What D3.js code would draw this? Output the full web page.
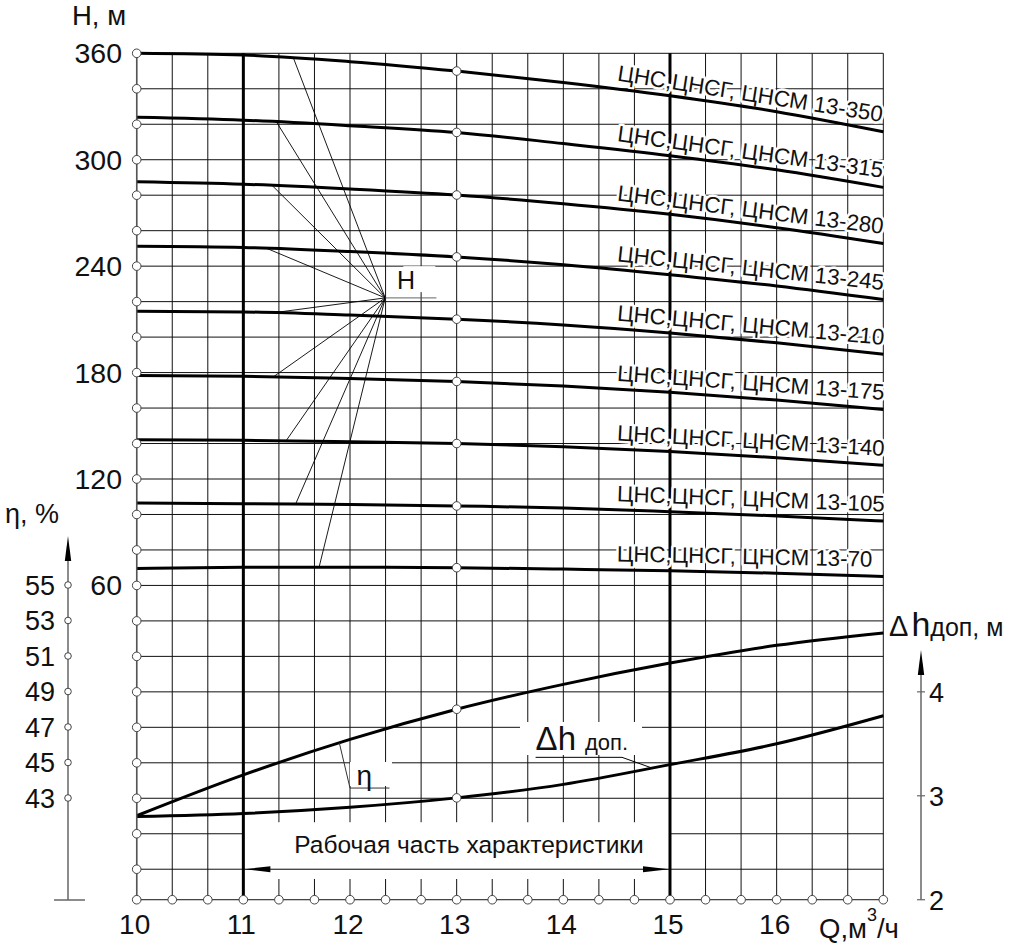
<!DOCTYPE html>
<html><head><meta charset="utf-8">
<script src="https://cdn.jsdelivr.net/npm/d3@7"></script>
<style>html,body{margin:0;padding:0;background:#fff}svg{display:block}text{font-family:"Liberation Sans",Arial,sans-serif;fill:#111}</style>
</head><body>
<script>
// ---- data ----
const q = [10, 11, 12, 13, 14, 15, 16, 17];
const models = ["13-350","13-315","13-280","13-245","13-210","13-175","13-140","13-105","13-70"];
const h350 = [360.0, 359.0, 355.3, 350.0, 343.6, 336.1, 327.1, 315.8];
const h315 = [323.9, 322.3, 319.2, 315.4, 309.1, 302.3, 294.3, 284.4];
const h280 = [287.6, 286.2, 283.5, 280.1, 275.2, 269.2, 261.7, 252.8];
const h245 = [251.2, 250.5, 248.2, 245.2, 240.8, 235.2, 228.8, 221.2];
const h210 = [214.6, 214.2, 212.4, 210.1, 206.8, 202.3, 196.8, 190.3];
const h175 = [178.3, 177.9, 176.6, 175.0, 172.4, 168.9, 164.5, 159.2];
const h140 = [142.1, 141.8, 141.0, 140.0, 138.2, 135.5, 132.0, 127.7];
const h105 = [106.4, 106.1, 105.6, 104.8, 103.7, 101.6, 99.2, 96.3];
const h70  = [69.6, 70.2, 70.3, 70.0, 69.2, 68.3, 66.9, 65.1];
const eta  = [42.0, 44.3, 46.3, 48.0, 49.4, 50.6, 51.6, 52.3];
const dh   = [2.80, 2.83, 2.89, 2.98, 3.11, 3.30, 3.50, 3.77];
const hSeries = [h350, h315, h280, h245, h210, h175, h140, h105, h70];
const leaderQ = [11.47, 11.31, 11.27, 11.22, 11.28, 11.28, 11.40, 11.49, 11.71];
const leaderApex = {q: 12.33, h: 222.1};
const hTicks = [60, 120, 180, 240, 300, 360];
const qTicks = [10, 11, 12, 13, 14, 15, 16];
const etaTicks = [43, 45, 47, 49, 51, 53, 55];
const dhTicks = [2, 3, 4];
const workRange = [11, 15];
const H_BOTTOM = -117.2;

// ---- scales ----
const W = 1024, Ht = 948;
const x = d3.scaleLinear().domain([10, 17]).range([136.7, 883.3]);
const y = d3.scaleLinear().domain([-120, 360]).range([904.7, 53.3]);
const yEta = d3.scaleLinear().domain([43, 55]).range([798, 585]);
const yDh = d3.scaleLinear().domain([2, 4]).range([y(H_BOTTOM), y(0)]);

const svg = d3.select("body").append("svg").attr("width", W).attr("height", Ht);

function interp(arr, Q) {
  const i = Math.max(0, Math.min(q.length - 2, Math.floor(Q - q[0])));
  const t = (Q - q[i]) / (q[i+1] - q[i]);
  return arr[i] + t * (arr[i+1] - arr[i]);
}

// ---- grid ----
const grid = svg.append("g").attr("stroke", "#111").attr("stroke-width", 1);
const vq = d3.range(0, 22).map(k => 10 + k / 3);
grid.selectAll("line.v").data(vq).join("line")
  .attr("x1", d => x(d)).attr("x2", d => x(d))
  .attr("y1", y(360)).attr("y2", y(H_BOTTOM));
const hh = d3.range(-100, 361, 20);
grid.selectAll("line.h").data(hh).join("line")
  .attr("x1", x(10)).attr("x2", x(17))
  .attr("y1", d => y(d)).attr("y2", d => y(d));
grid.append("line").attr("x1", x(10)).attr("x2", x(17)).attr("y1", y(H_BOTTOM)).attr("y2", y(H_BOTTOM));

// white box for working range
svg.append("rect").attr("x", x(workRange[0])).attr("width", x(workRange[1]) - x(workRange[0]))
  .attr("y", y(-73.5)).attr("height", y(-105.5) - y(-73.5)).attr("fill", "#fff");

// thick verticals
svg.selectAll("line.thick").data(workRange).join("line")
  .attr("x1", d => x(d)).attr("x2", d => x(d)).attr("y1", y(360)).attr("y2", y(H_BOTTOM))
  .attr("stroke", "#000").attr("stroke-width", 3);

// working range arrow
function arrowHead(g, tipX, tipY, dir, len, hw) {
  g.append("path").attr("d", `M${tipX},${tipY} L${tipX - dir*len},${tipY - hw} L${tipX - dir*len},${tipY + hw} Z`).attr("fill", "#000");
}
const wa = svg.append("g");
wa.append("line").attr("x1", x(workRange[0])).attr("x2", x(workRange[1])).attr("y1", y(-100)).attr("y2", y(-100)).attr("stroke", "#000").attr("stroke-width", 1);
arrowHead(wa, x(workRange[0]) + 1, y(-100), -1, 26, 3);
arrowHead(wa, x(workRange[1]) - 1, y(-100), 1, 26, 3);
wa.append("text").attr("x", 469).attr("y", 853)
  .attr("text-anchor", "middle").attr("font-size", 24.5).text("Рабочая часть характеристики");

// ---- curve labels (under curves, halo hides grid) ----
const lblQ = 14.5;
const labels = svg.append("g");
hSeries.forEach((s, i) => {
  const x0 = x(lblQ), y0 = y(interp(s, lblQ)) - 8.5;
  const x1 = x(17), y1 = y(s[s.length - 1]) - 9.5;
  const ang = Math.atan2(y1 - y0, x1 - x0) * 180 / Math.PI;
  labels.append("text")
    .attr("transform", `translate(${x0},${y0}) rotate(${ang})`)
    .attr("font-size", 22.3)
    .attr("stroke", "#fff").attr("stroke-width", 5).attr("paint-order", "stroke").attr("stroke-linejoin", "round")
    .text("ЦНС,ЦНСГ, ЦНСМ " + models[i]);
});

// ---- curves ----
const line = d3.line().curve(d3.curveMonotoneX);
const curves = svg.append("g").attr("fill", "none").attr("stroke", "#000").attr("stroke-width", 3);
hSeries.forEach(s => curves.append("path").attr("d", line(q.map((d, i) => [x(d), y(s[i])]))));
curves.append("path").attr("d", line(q.map((d, i) => [x(d), yEta(eta[i])])));
curves.append("path").attr("d", line(q.map((d, i) => [x(d), yDh(dh[i])])));

// ---- H leader fan ----
const fan = svg.append("g").attr("stroke", "#000").attr("stroke-width", 0.9);
hSeries.forEach((s, i) => {
  fan.append("line").attr("x1", x(leaderApex.q)).attr("y1", y(leaderApex.h))
    .attr("x2", x(leaderQ[i])).attr("y2", y(interp(s, leaderQ[i])));
});
svg.append("rect").attr("x", x(12.5)).attr("y", y(240)).attr("width", 32).attr("height", 26).attr("fill", "#fff");
fan.append("line").attr("x1", x(leaderApex.q)).attr("y1", y(leaderApex.h)).attr("x2", x(12.81)).attr("y2", y(leaderApex.h)).attr("stroke", "#555");
svg.append("text").attr("x", x(12.44)).attr("y", y(227.3)).attr("font-size", 25).text("H");

// ---- eta label ----
const etaQ = 11.9;
svg.append("rect").attr("x", 350).attr("y", 762).attr("width", 42).attr("height", 24).attr("fill", "#fff");
svg.append("path").attr("d", `M${x(etaQ)},${yEta(interp(eta, etaQ))} L${x(12.0)},${yEta(43.56)} L${x(12.37)},${yEta(43.56)}`)
  .attr("fill", "none").attr("stroke", "#333").attr("stroke-width", 1);
svg.append("text").attr("x", x(12.06)).attr("y", yEta(43.75)).attr("font-size", 28).text("η");

// ---- dh label ----
const dhQ = 14.83;
svg.append("rect").attr("x", 520).attr("y", 722).attr("width", 122).attr("height", 33).attr("fill", "#fff");
svg.append("path").attr("d", `M${x(13.74)},${yDh(3.37)} L${x(14.55)},${yDh(3.37)} L${x(dhQ)},${yDh(interp(dh, dhQ))}`)
  .attr("fill", "none").attr("stroke", "#000").attr("stroke-width", 1);
const dt = svg.append("text").attr("x", x(13.74)).attr("y", yDh(3.44));
dt.append("tspan").attr("font-size", 33).text("Δh");
dt.append("tspan").attr("font-size", 22).attr("dx", 9).text("доп.");

// ---- circles ----
function circ(cx, cy, r) {
  svg.append("circle").attr("cx", cx).attr("cy", cy).attr("r", r).attr("fill", "#fff").attr("stroke", "#444").attr("stroke-width", 1);
}
svg.append("line").attr("x1", x(10)).attr("x2", x(10)).attr("y1", y(360)).attr("y2", y(H_BOTTOM)).attr("stroke", "#555").attr("stroke-width", 1.5);
hh.forEach(d => circ(x(10), y(d), 4.3));
circ(x(10), y(H_BOTTOM), 4.3);
vq.slice(1).forEach(d => circ(x(d), y(H_BOTTOM), 4.3));
hSeries.forEach(s => circ(x(13), y(s[3]), 4.3));
circ(x(13), yEta(eta[3]), 4.3);
circ(x(13), yDh(dh[3]), 4.3);

// ---- H axis labels ----
svg.selectAll("text.ht").data(hTicks).join("text")
  .attr("x", 122).attr("y", d => y(d) + 10).attr("text-anchor", "end").attr("font-size", 28.5).text(d => d);
svg.append("text").attr("x", 72).attr("y", 25).attr("font-size", 27.5).text("H, м");

// ---- Q axis labels ----
svg.selectAll("text.qt").data(qTicks).join("text")
  .attr("x", d => x(d) - 2).attr("y", 934).attr("text-anchor", "middle").attr("font-size", 28).text(d => d);
const ql = svg.append("text").attr("x", 819).attr("y", 938).attr("font-size", 27.5);
ql.append("tspan").text("Q,м");
ql.append("tspan").attr("font-size", 18).attr("dy", -17).text("3");
ql.append("tspan").attr("dy", 17).text("/ч");

// ---- eta axis ----
const ex = 68;
svg.append("line").attr("x1", ex).attr("x2", ex).attr("y1", 900).attr("y2", 556).attr("stroke", "#666").attr("stroke-width", 1.5);
svg.append("line").attr("x1", 54).attr("x2", 85).attr("y1", 900).attr("y2", 900).attr("stroke", "#666").attr("stroke-width", 1.5);
svg.append("path").attr("d", `M${ex},536 L${ex-3.2},561 L${ex+3.2},561 Z`).attr("fill", "#000");
etaTicks.forEach(d => {
  svg.append("circle").attr("cx", ex).attr("cy", yEta(d)).attr("r", 3.3).attr("fill", "#fff").attr("stroke", "#444").attr("stroke-width", 1);
  svg.append("text").attr("x", 55).attr("y", yEta(d) + 9.5).attr("text-anchor", "end").attr("font-size", 27).text(d);
});
svg.append("text").attr("x", 5).attr("y", 523).attr("font-size", 27).text("η, %");

// ---- dh axis ----
const dxa = 921;
svg.append("line").attr("x1", dxa).attr("x2", dxa).attr("y1", yDh(2)).attr("y2", 668).attr("stroke", "#666").attr("stroke-width", 1.5);
svg.append("path").attr("d", `M${dxa},650 L${dxa-3.2},675 L${dxa+3.2},675 Z`).attr("fill", "#000");
dhTicks.forEach(d => {
  svg.append("line").attr("x1", dxa - 4).attr("x2", dxa + 4).attr("y1", yDh(d)).attr("y2", yDh(d)).attr("stroke", "#666").attr("stroke-width", 1.2);
  svg.append("text").attr("x", 929).attr("y", yDh(d) + 10).attr("font-size", 27).text(d);
});
const dl = svg.append("text").attr("x", 889).attr("y", 636);
dl.append("tspan").attr("font-size", 29).text("Δ");
dl.append("tspan").attr("font-size", 34).attr("dx", 3).text("h");
dl.append("tspan").attr("font-size", 25).text("доп, м");
</script>
</body></html>
